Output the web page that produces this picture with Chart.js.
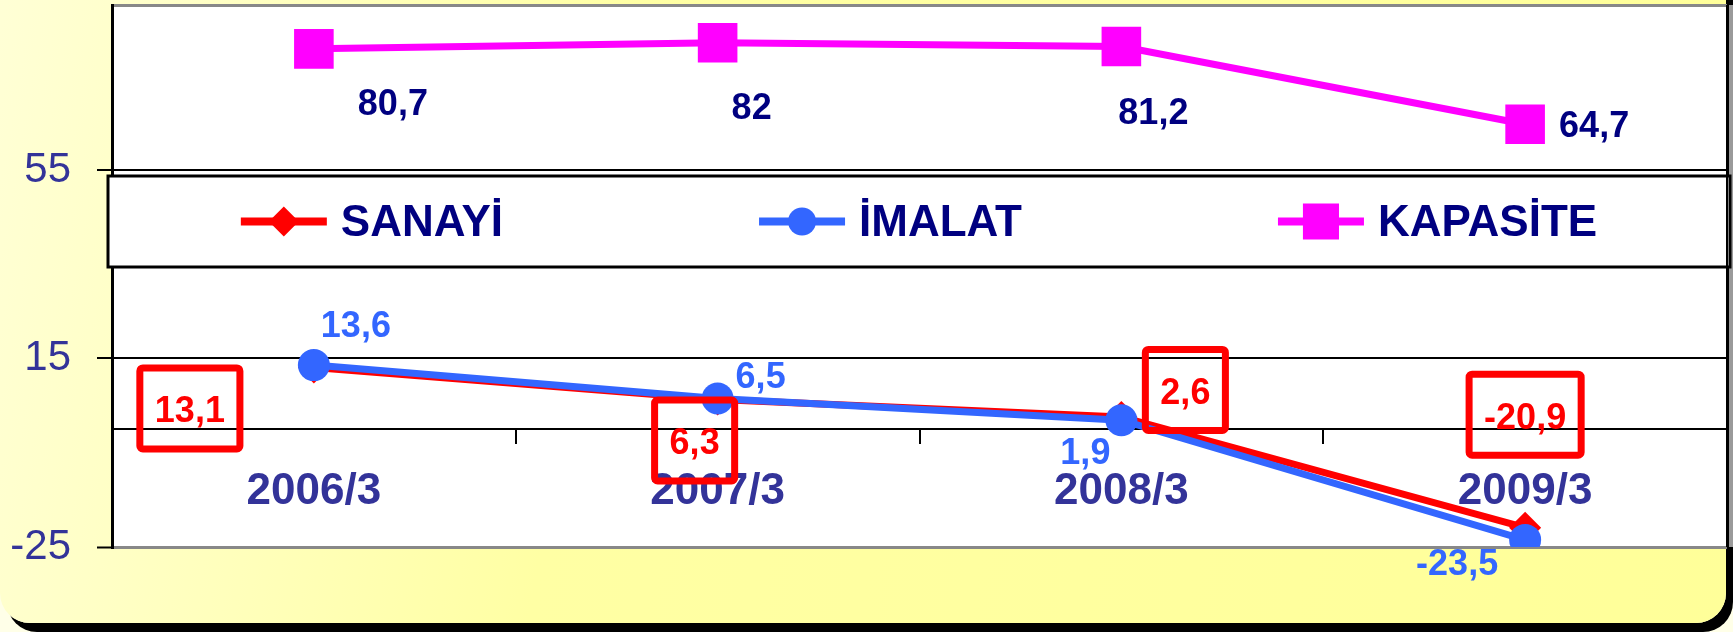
<!DOCTYPE html>
<html>
<head>
<meta charset="utf-8">
<script src="https://cdn.jsdelivr.net/npm/chart.js@4/dist/chart.umd.min.js"></script>
<style>
html, body { margin: 0; padding: 0; width: 1733px; height: 632px; overflow: hidden; background: #ffffe8; }
#zemin {
    position: absolute; left: 0; top: -40px; width: 1726px; height: 663px;
    border-radius: 30px;
    background: linear-gradient(100deg, #ffffd6 0%, #ffffa4 35%, #ffff99 100%);
    box-shadow: 7px 9px 0 #000;
}
#grafik { position: absolute; left: 0; top: 0; }
</style>
</head>
<body>
<div id="zemin"></div>
<canvas id="grafik" width="1733" height="632"></canvas>
<script>
// veriler
const donemler = ['2006/3', '2007/3', '2008/3', '2009/3'];
const sanayi = [13.1, 6.3, 2.6, -20.9];
const imalat = [13.6, 6.5, 1.9, -23.5];
const kapasite = [80.7, 82, 81.2, 64.7];
const yTicks = [-25, 0, 15, 55];
const yMin = -25;
const yMax = 90;

const yazi = '"Liberation Sans", Arial, sans-serif';
Chart.defaults.font.family = yazi;

// etiket yerleşimi (noktaya göre kayma)
const etiketKayma = [
    [[-124, 43], [-23, 43], [64, -25], [0, -111]],
    [[42, -40], [43, -22], [-36, 32], [-68, 23]],
    [[79, 54], [34, 64], [32, 66], [69, 1]]
];
const etiketRenk = ['#ff0000', '#3366ff', '#000080'];
const kutulu = [true, false, false];
const legendYaricap = [15, 14, 25.5];

const zeminEklenti = {
    id: 'zeminEklenti',
    beforeDraw(chart) {
        const { ctx, chartArea: a } = chart;
        ctx.save();
        ctx.fillStyle = '#ffffff';
        ctx.fillRect(a.left, a.top, a.width, a.bottom - a.top);
        ctx.fillStyle = '#9a9a9a';
        ctx.fillRect(a.right + 2, a.top, chart.width - a.right - 2, a.bottom - a.top);
        ctx.fillStyle = '#888888';
        ctx.fillRect(a.left, a.top - 1, a.width, 3);
        ctx.restore();
    },
    afterDraw(chart) {
        const { ctx, chartArea: a } = chart;
        ctx.save();
        ctx.strokeStyle = '#000';
        ctx.lineWidth = 2;
        ctx.beginPath();
        ctx.moveTo(a.right, a.top);
        ctx.lineTo(a.right, a.bottom);
        ctx.stroke();
        ctx.restore();
    }
};

const legendKutu = {
    id: 'legendKutu',
    afterDatasetsDraw(chart) {
        const { ctx, chartArea: a } = chart;
        const top = 176, bottom = 267;
        const left = a.left - 4, right = a.right + 3;
        ctx.save();
        ctx.fillStyle = '#fff';
        ctx.fillRect(left, top, right - left, bottom - top);
        ctx.lineWidth = 3;
        ctx.strokeStyle = '#000';
        ctx.strokeRect(left, top, right - left, bottom - top);

        ctx.font = 'bold 44px ' + yazi;
        const symW = 86, gap = 14, itemGap = 256;
        const ds = chart.data.datasets;
        const widths = ds.map(d => symW + gap + ctx.measureText(d.label).width);
        const total = widths.reduce((s, w) => s + w, 0) + itemGap * (widths.length - 1);
        let x = (left + right) / 2 - total / 2;
        const cy = (top + bottom) / 2;
        ds.forEach((d, i) => {
            ctx.strokeStyle = d.borderColor;
            ctx.lineWidth = 8;
            ctx.beginPath();
            ctx.moveTo(x, cy);
            ctx.lineTo(x + symW, cy);
            ctx.stroke();
            ctx.fillStyle = d.pointBackgroundColor;
            Chart.helpers.drawPoint(ctx, { pointStyle: d.pointStyle, radius: legendYaricap[i], rotation: 0, borderWidth: 0 }, x + symW / 2, cy);
            ctx.fillStyle = '#000080';
            ctx.textAlign = 'left';
            ctx.textBaseline = 'middle';
            ctx.fillText(d.label, x + symW + gap, cy + 2);
            x += widths[i] + itemGap;
        });
        ctx.restore();
    }
};

const degerEtiket = {
    id: 'degerEtiket',
    afterDatasetsDraw(chart) {
        const ctx = chart.ctx;
        ctx.save();
        ctx.font = 'bold 36px ' + yazi;
        ctx.textAlign = 'center';
        ctx.textBaseline = 'middle';
        chart.data.datasets.forEach((d, i) => {
            const meta = chart.getDatasetMeta(i);
            meta.data.forEach((pt, j) => {
                const [dx, dy] = etiketKayma[i][j];
                const txt = String(d.data[j]).replace('.', ',');
                const x = pt.x + dx, y = pt.y + dy;
                if (kutulu[i]) {
                    const w = ctx.measureText(txt).width + 30, h = 81;
                    ctx.strokeStyle = '#ff0000';
                    ctx.lineWidth = 7;
                    ctx.beginPath();
                    ctx.roundRect(x - w / 2, y - 2 - h / 2, w, h, 3);
                    ctx.stroke();
                }
                ctx.fillStyle = etiketRenk[i];
                ctx.fillText(txt, x, y + 2);
            });
        });
        ctx.restore();
    }
};

new Chart(document.getElementById('grafik'), {
    type: 'line',
    data: {
        labels: donemler,
        datasets: [{
            label: 'SANAYİ',
            data: sanayi,
            borderColor: '#ff0000',
            backgroundColor: '#ff0000',
            pointBackgroundColor: '#ff0000',
            pointBorderWidth: 0,
            pointStyle: 'rectRot',
            pointRadius: 16,
            borderWidth: 7,
            order: 1
        }, {
            label: 'İMALAT',
            data: imalat,
            borderColor: '#3366ff',
            backgroundColor: '#3366ff',
            pointBackgroundColor: '#3366ff',
            pointBorderWidth: 0,
            pointStyle: 'circle',
            pointRadius: 16,
            borderWidth: 7,
            order: 0
        }, {
            label: 'KAPASİTE',
            data: kapasite,
            borderColor: '#ff00ff',
            backgroundColor: '#ff00ff',
            pointBackgroundColor: '#ff00ff',
            pointBorderWidth: 0,
            pointStyle: 'rect',
            pointRadius: 28,
            borderWidth: 7,
            order: 2
        }]
    },
    options: {
        responsive: false,
        animation: false,
        devicePixelRatio: 1,
        events: [],
        layout: {
            autoPadding: false,
            padding: { top: 5, right: 6, bottom: 85, left: 0 }
        },
        plugins: {
            legend: { display: false },
            tooltip: { enabled: false }
        },
        scales: {
            x: {
                type: 'category',
                position: { y: 0 },
                offset: true,
                grid: {
                    offset: true,
                    drawOnChartArea: false,
                    tickLength: 14,
                    color: '#000',
                    lineWidth: 2
                },
                border: { color: '#000', width: 2 },
                ticks: {
                    font: { size: 44, weight: 'bold' },
                    color: '#333399',
                    padding: 22,
                    maxRotation: 0,
                    autoSkip: false
                },
                afterFit: axis => { axis.paddingLeft = 0; axis.paddingRight = 0; }
            },
            y: {
                min: yMin,
                max: yMax,
                afterBuildTicks: axis => { axis.ticks = yTicks.map(v => ({ value: v })); },
                afterFit: axis => { axis.width = 112; axis.paddingTop = 0; axis.paddingBottom = 0; },
                ticks: {
                    callback: v => (v === 0 ? '' : v),
                    font: { size: 42 },
                    color: '#333399',
                    padding: 26,
                    autoSkip: false
                },
                grid: {
                    color: c => (c.tick && c.tick.value === yMin ? '#888888' : '#000000'),
                    lineWidth: c => (c.tick && c.tick.value === yMin ? 3 : 2),
                    tickLength: 15,
                    tickColor: c => (c.tick && c.tick.value === 0 ? 'rgba(0,0,0,0)' : '#000000'),
                    tickWidth: 2
                },
                border: { color: '#000', width: 3 }
            }
        }
    },
    plugins: [zeminEklenti, legendKutu, degerEtiket]
});
</script>
</body>
</html>
